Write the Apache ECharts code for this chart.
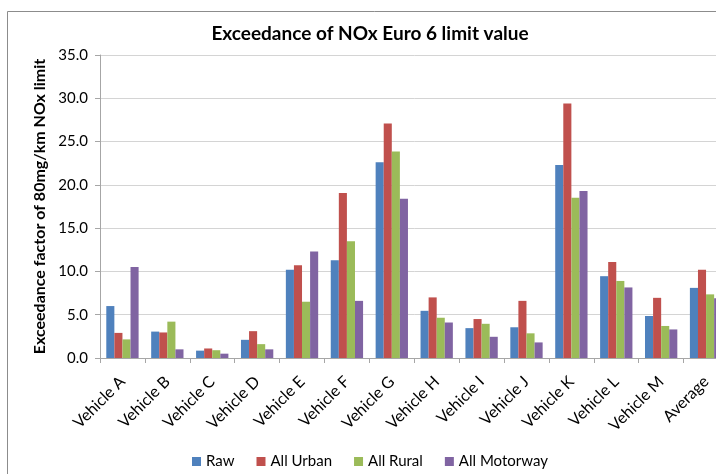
<!DOCTYPE html>
<html>
<head>
<meta charset="utf-8">
<script src="https://cdn.jsdelivr.net/npm/echarts@6/dist/echarts.min.js"></script>
<style>
html,body{margin:0;padding:0;overflow:hidden;background:#fff;width:716px;height:474px;}
#c{width:740px;height:474px;}
</style>
</head>
<body>
<div id="c"></div>
<script>
const categories = ["Vehicle A","Vehicle B","Vehicle C","Vehicle D","Vehicle E","Vehicle F","Vehicle G","Vehicle H","Vehicle I","Vehicle J","Vehicle K","Vehicle L","Vehicle M","Average"];
const raw      = [6.0, 3.05, 0.85, 2.1, 10.2, 11.3, 22.6, 5.45, 3.45, 3.55, 22.3, 9.45, 4.85, 8.1];
const allUrban = [2.9, 2.95, 1.1, 3.1, 10.7, 19.05, 27.1, 7.0, 4.5, 6.6, 29.4, 11.1, 6.95, 10.2];
const allRural = [2.15, 4.2, 0.9, 1.6, 6.5, 13.5, 23.85, 4.65, 3.95, 2.85, 18.5, 8.9, 3.7, 7.35];
const allMotorway = [10.5, 1.0, 0.5, 1.0, 12.3, 6.6, 18.4, 4.1, 2.45, 1.8, 19.3, 8.15, 3.3, 6.9];
const seriesNames = ["Raw","All Urban","All Rural","All Motorway"];
const colors = ["#4F81BD","#C0504D","#9BBB59","#8064A2"];

const chart = echarts.init(document.getElementById('c'), null, {renderer:'canvas'});
const font = "Lato, 'Open Sans', sans-serif";
const data = [raw, allUrban, allRural, allMotorway];
chart.setOption({
  animation:false,
  backgroundColor:'#fff',
  textStyle:{fontFamily:font},
  graphic:[{type:'rect', shape:{x:7.5,y:11.5,width:760,height:500}, style:{fill:'none',stroke:'#8c8c8c',lineWidth:1}, z:-1}],
  title:{text:'Exceedance of NOx Euro 6 limit value', left:'center', top:19,
    textStyle:{fontFamily:font, fontSize:19, fontWeight:'bold', color:'#000'}},
  legend:{bottom:0, left:'center', itemWidth:9, itemHeight:9, itemGap:22, icon:'rect',
    textStyle:{fontFamily:font, fontSize:15, color:'#000'}, data:seriesNames},
  grid:{left:100, right:11.5, top:55, bottom:116},
  xAxis:{type:'category', data:categories,
    axisLine:{lineStyle:{color:'#a6a6a6'}},
    axisTick:{show:true, length:5, lineStyle:{color:'#a6a6a6'}},
    axisLabel:{rotate:45, fontSize:16, color:'#000', margin:21, interval:0, fontFamily:font}},
  yAxis:{type:'value', min:0, max:35, interval:5,
    name:'Exceedance factor of 80mg/km NOx limit', nameLocation:'middle', nameGap:52,
    nameTextStyle:{fontSize:16, fontWeight:'bold', color:'#000', fontFamily:font},
    axisLine:{show:true, lineStyle:{color:'#a6a6a6'}},
    axisTick:{show:true, length:5, lineStyle:{color:'#a6a6a6'}},
    splitLine:{lineStyle:{color:'#d4d4d4'}},
    axisLabel:{fontSize:15, color:'#000', margin:12, fontFamily:font, formatter:v=>v.toFixed(1)}},
  series: seriesNames.map((n,i)=>({name:n, type:'bar', data:data[i], barGap:'0%', barCategoryGap:'28%',
    itemStyle:{color:colors[i]}}))
});
</script>
</body>
</html>
